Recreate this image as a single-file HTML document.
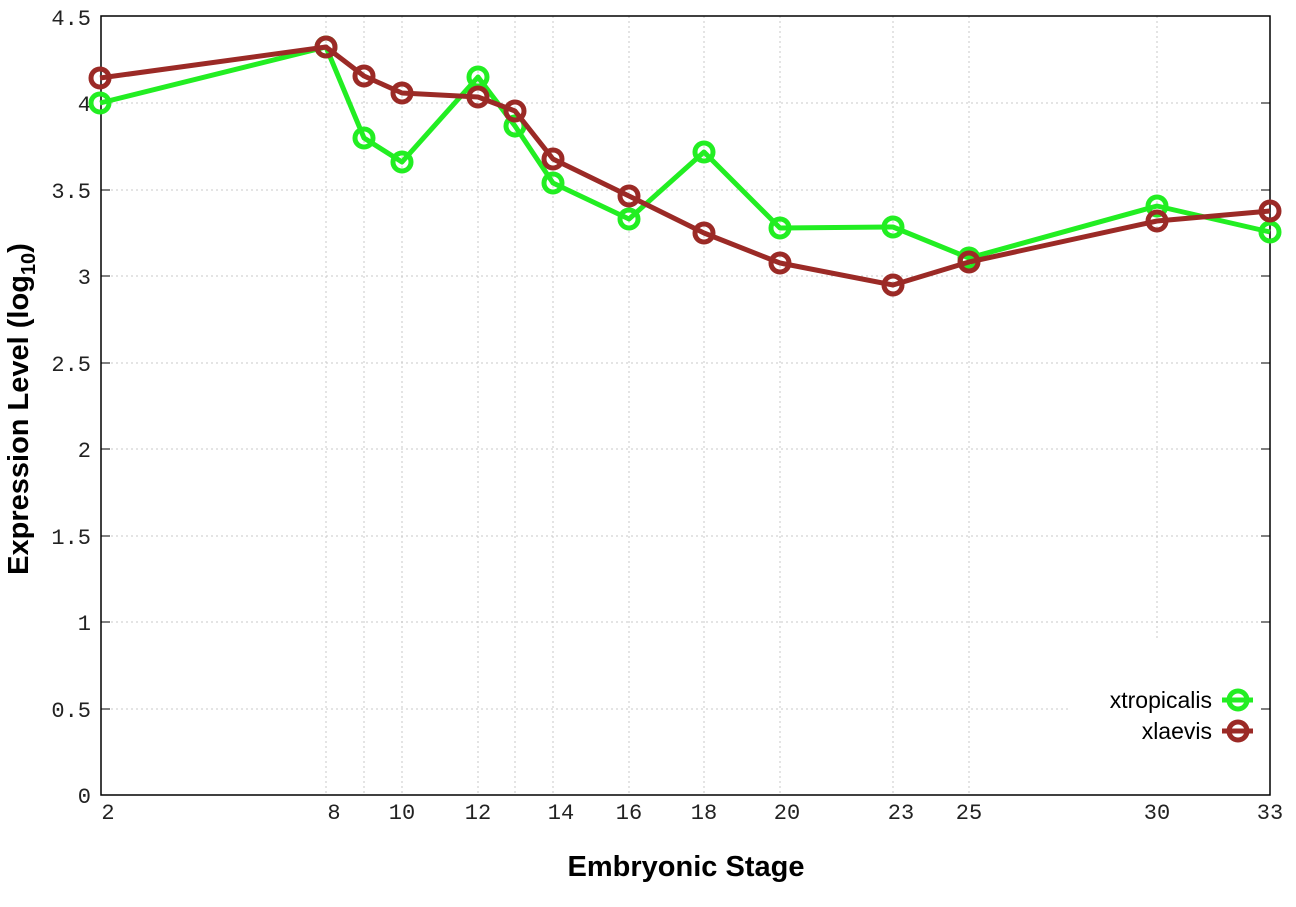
<!DOCTYPE html>
<html><head><style>body{margin:0;background:#fff}svg{display:block}</style></head><body>
<svg width="1296" height="907" xmlns="http://www.w3.org/2000/svg">
<g stroke="#c8c8c8" stroke-width="1" stroke-dasharray="2,3">
<line x1="101" x2="1270" y1="103" y2="103"/><line x1="101" x2="1270" y1="190" y2="190"/>
<line x1="101" x2="1270" y1="276" y2="276"/><line x1="101" x2="1270" y1="363" y2="363"/>
<line x1="101" x2="1270" y1="449" y2="449"/><line x1="101" x2="1270" y1="536" y2="536"/>
<line x1="101" x2="1270" y1="622" y2="622"/><line x1="101" x2="1070" y1="709" y2="709"/>
<line x1="326" x2="326" y1="16" y2="795"/><line x1="364" x2="364" y1="16" y2="795"/>
<line x1="402" x2="402" y1="16" y2="795"/><line x1="478" x2="478" y1="16" y2="795"/>
<line x1="515" x2="515" y1="16" y2="795"/><line x1="553" x2="553" y1="16" y2="795"/>
<line x1="629" x2="629" y1="16" y2="795"/><line x1="704" x2="704" y1="16" y2="795"/>
<line x1="780" x2="780" y1="16" y2="795"/><line x1="893" x2="893" y1="16" y2="795"/>
<line x1="969" x2="969" y1="16" y2="795"/><line x1="1157" x2="1157" y1="16" y2="640"/>
</g>
<rect x="101" y="16" width="1169" height="779" fill="none" stroke="#000" stroke-width="1.5"/>
<g stroke="#000" stroke-width="1">
<line x1="101" x2="110" y1="103" y2="103"/><line x1="1261" x2="1270" y1="103" y2="103"/>
<line x1="101" x2="110" y1="190" y2="190"/><line x1="1261" x2="1270" y1="190" y2="190"/>
<line x1="101" x2="110" y1="276" y2="276"/><line x1="1261" x2="1270" y1="276" y2="276"/>
<line x1="101" x2="110" y1="363" y2="363"/><line x1="1261" x2="1270" y1="363" y2="363"/>
<line x1="101" x2="110" y1="449" y2="449"/><line x1="1261" x2="1270" y1="449" y2="449"/>
<line x1="101" x2="110" y1="536" y2="536"/><line x1="1261" x2="1270" y1="536" y2="536"/>
<line x1="101" x2="110" y1="622" y2="622"/><line x1="1261" x2="1270" y1="622" y2="622"/>
<line x1="101" x2="110" y1="709" y2="709"/><line x1="1261" x2="1270" y1="709" y2="709"/>
</g>
<g font-family="Liberation Mono, monospace" font-size="22" fill="#222" text-anchor="end">
<text x="91" y="25">4.5</text><text x="91" y="111">4</text><text x="91" y="198">3.5</text>
<text x="91" y="284">3</text><text x="91" y="371">2.5</text><text x="91" y="457">2</text>
<text x="91" y="544">1.5</text><text x="91" y="630">1</text><text x="91" y="717">0.5</text>
<text x="91" y="803">0</text>
</g>
<g font-family="Liberation Mono, monospace" font-size="22" fill="#222" text-anchor="middle">
<text x="108" y="819">2</text><text x="334" y="819">8</text><text x="402" y="819">10</text>
<text x="478" y="819">12</text><text x="561" y="819">14</text><text x="629" y="819">16</text>
<text x="704" y="819">18</text><text x="787" y="819">20</text><text x="901" y="819">23</text>
<text x="969" y="819">25</text><text x="1157" y="819">30</text><text x="1270" y="819">33</text>
</g>
<text x="686" y="876" font-family="Liberation Sans, sans-serif" font-weight="bold" font-size="29" text-anchor="middle">Embryonic Stage</text>
<text transform="translate(28,409) rotate(-90)" font-family="Liberation Sans, sans-serif" font-weight="bold" font-size="29" text-anchor="middle">Expression Level (log<tspan font-size="20" dy="7">10</tspan><tspan dy="-7">)</tspan></text>
<g fill="none" stroke-width="5" stroke-linejoin="round">
<polyline stroke="#22ee22" points="100,103 326,47 364,138 402,162 478,77 515,126 553,183 629,219 704,152 780,228 893,227 969,258 1157,206 1270,232"/>
<g stroke="#22ee22"><circle cx="100" cy="103" r="9"/><circle cx="326" cy="47" r="9"/><circle cx="364" cy="138" r="9"/><circle cx="402" cy="162" r="9"/><circle cx="478" cy="77" r="9"/><circle cx="515" cy="126" r="9"/><circle cx="553" cy="183" r="9"/><circle cx="629" cy="219" r="9"/><circle cx="704" cy="152" r="9"/><circle cx="780" cy="228" r="9"/><circle cx="893" cy="227" r="9"/><circle cx="969" cy="258" r="9"/><circle cx="1157" cy="206" r="9"/><circle cx="1270" cy="232" r="9"/></g>
<polyline stroke="#9b2a26" points="100,78 326,47 364,76 402,93 478,97 515,111 553,159 629,196 704,233 780,263 893,285 969,262 1157,221 1270,211"/>
<g stroke="#9b2a26"><circle cx="100" cy="78" r="9"/><circle cx="326" cy="47" r="9"/><circle cx="364" cy="76" r="9"/><circle cx="402" cy="93" r="9"/><circle cx="478" cy="97" r="9"/><circle cx="515" cy="111" r="9"/><circle cx="553" cy="159" r="9"/><circle cx="629" cy="196" r="9"/><circle cx="704" cy="233" r="9"/><circle cx="780" cy="263" r="9"/><circle cx="893" cy="285" r="9"/><circle cx="969" cy="262" r="9"/><circle cx="1157" cy="221" r="9"/><circle cx="1270" cy="211" r="9"/></g>
</g>
<g font-family="Liberation Sans, sans-serif" font-size="23" fill="#000" text-anchor="end">
<text x="1212" y="708">xtropicalis</text><text x="1212" y="739">xlaevis</text>
</g>
<g fill="none" stroke-width="5">
<line x1="1222" x2="1253" y1="700" y2="700" stroke="#22ee22"/><circle cx="1238" cy="700" r="9" stroke="#22ee22"/>
<line x1="1222" x2="1253" y1="731" y2="731" stroke="#9b2a26"/><circle cx="1238" cy="731" r="9" stroke="#9b2a26"/>
</g>
</svg>
</body></html>
